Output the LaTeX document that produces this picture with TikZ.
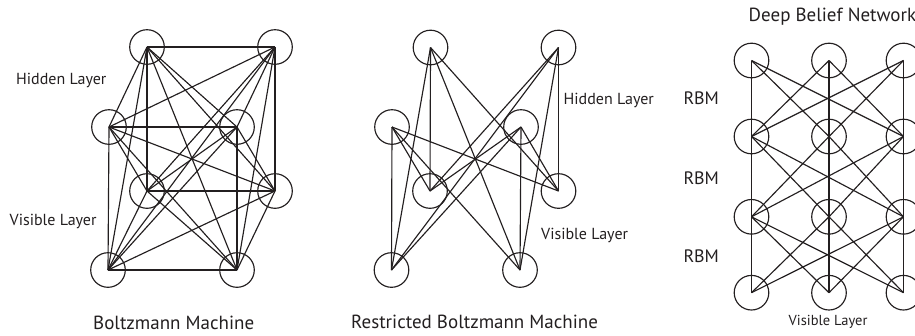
\documentclass[tikz,border=0pt]{standalone}
\usepackage{fontspec}
\setmainfont{PT Sans}
\definecolor{ink}{RGB}{35,31,32}
\begin{document}
\begin{tikzpicture}[x=1pt,y=-1pt,
  neuron/.style={circle,draw=ink,line width=1.15pt,minimum size=34.6pt,inner sep=0pt},
  link/.style={draw=ink,line width=1.15pt,line join=miter},
  lbl/.style={anchor=base west,inner sep=0pt,text=ink,font=\fontsize{16}{19}\selectfont},
  ttl/.style={anchor=base west,inner sep=0pt,text=ink,font=\fontsize{19}{22}\selectfont},
  rbmlbl/.style={anchor=base west,inner sep=0pt,text=ink,font=\fontsize{18}{21}\selectfont},
  small/.style={anchor=base west,inner sep=0pt,text=ink,font=\fontsize{14.5}{17}\selectfont}]
\useasboundingbox (0,0) rectangle (915,335);
% ---------- Boltzmann Machine ----------
\foreach \n/\x/\y in {A/147/47,B/275/47,C/109/127,D/237/127,E/147/191,F/275/191,G/108/270,H/237/270}
  \node[neuron] (bm\n) at (\x,\y) {};
\foreach \a/\b in {A/B,A/C,A/D,A/E,A/F,A/G,A/H,B/C,B/D,B/E,B/F,B/G,B/H,C/D,C/E,C/F,C/G,C/H,D/E,D/F,D/G,D/H,E/F,E/G,E/H,F/G,F/H,G/H}
  \draw[link] (bm\a.center) -- (bm\b.center);
\node[lbl] (bmhid) at (16,84.3) {Hidden Layer};
\node[lbl] (bmvis) at (9.5,225.5) {Visible Layer};
\node[ttl] (bmttl) at (93,329) {Boltzmann Machine};
% ---------- Restricted Boltzmann Machine ----------
\foreach \n/\x/\y in {A/430.5/47.5,B/558.5/47.5,C/392/127,D/521/127,E/430/191,F/558.5/191,G/391.5/270,H/520/270}
  \node[neuron] (rb\n) at (\x,\y) {};
\foreach \a in {A,B,C,D}
  \foreach \b in {E,F,G,H}
    \draw[link] (rb\a.center) -- (rb\b.center);
\node[lbl] (rbhid) at (563.5,104.5) {Hidden Layer};
\node[lbl] (rbvis) at (541,239) {Visible Layer};
\node[ttl] (rbttl) at (351,328.5) {Restricted Boltzmann Machine};
% ---------- Deep Belief Network ----------
\foreach \c/\x in {1/751.5,2/829,3/903.5}
  \foreach \r/\y in {1/60.5,2/136.5,3/216.8,4/292.7}
    \node[neuron] (db\c\r) at (\x,\y) {};
\foreach \r/\s in {1/2,2/3,3/4}
  \foreach \a in {1,2,3}
    \foreach \b in {1,2,3}
      \draw[link] (db\a\r.center) -- (db\b\s.center);
\node[ttl] (dbttl) at (748.5,21.7) {Deep Belief Network};
\node[rbmlbl] (rbm1) at (683.3,104.3) {RBM};
\node[rbmlbl] (rbm2) at (683.3,184) {RBM};
\node[rbmlbl] (rbm3) at (683.3,262.3) {RBM};
\node[small] (dbvis) at (788.5,325.5) {Visible Layer};
\end{tikzpicture}
\end{document}
